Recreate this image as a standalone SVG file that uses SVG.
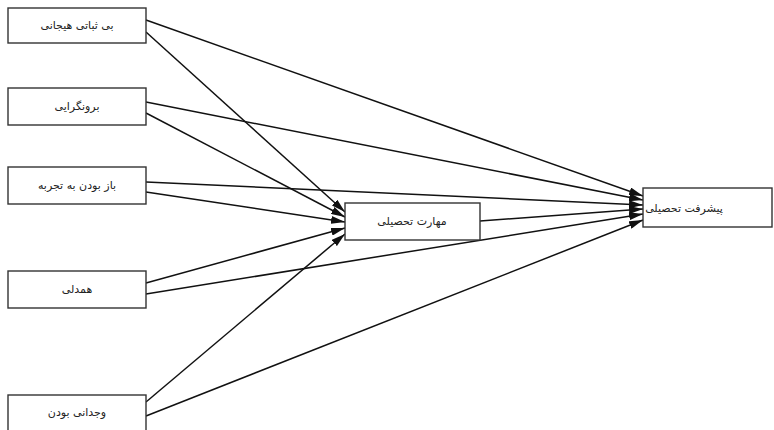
<svg xmlns="http://www.w3.org/2000/svg" width="774" height="430" viewBox="0 0 774 430">
<style>
.box{fill:#fff;stroke:#333;stroke-width:1.4}
.lbl{font-family:"DejaVu Sans",sans-serif;font-size:11px;fill:#222;text-anchor:middle;direction:rtl}
.edge{stroke:#111;stroke-width:1.5;fill:none}
</style>
<defs>
<marker id="ah" markerWidth="14" markerHeight="8" refX="14" refY="4" orient="auto" markerUnits="userSpaceOnUse">
<path d="M0,0 L14,4 L0,8 z" fill="#111"/>
</marker>
</defs>
<rect width="774" height="430" fill="#fff"/>
<g id="connectors">
<line class="edge" x1="146" y1="20" x2="643" y2="196" marker-end="url(#ah)"/>
<line class="edge" x1="146" y1="32" x2="345" y2="212" marker-end="url(#ah)"/>
<line class="edge" x1="146" y1="102" x2="643" y2="200" marker-end="url(#ah)"/>
<line class="edge" x1="146" y1="113" x2="345" y2="217" marker-end="url(#ah)"/>
<line class="edge" x1="146" y1="182" x2="643" y2="205" marker-end="url(#ah)"/>
<line class="edge" x1="146" y1="192" x2="345" y2="222" marker-end="url(#ah)"/>
<line class="edge" x1="480" y1="221" x2="643" y2="209" marker-end="url(#ah)"/>
<line class="edge" x1="146" y1="283" x2="345" y2="228" marker-end="url(#ah)"/>
<line class="edge" x1="146" y1="294" x2="643" y2="214" marker-end="url(#ah)"/>
<line class="edge" x1="146" y1="402" x2="345" y2="234" marker-end="url(#ah)"/>
<line class="edge" x1="146" y1="416" x2="643" y2="220" marker-end="url(#ah)"/>
</g>
<g id="n1"><rect class="box" x="8" y="8" width="138" height="35"/><text class="lbl" x="77" y="29">بی ثباتی هیجانی</text></g>
<g id="n2"><rect class="box" x="8" y="88" width="138" height="37"/><text class="lbl" x="77" y="110">برونگرایی</text></g>
<g id="n3"><rect class="box" x="8" y="167" width="138" height="37"/><text class="lbl" x="77" y="189">باز بودن به تجربه</text></g>
<g id="n4"><rect class="box" x="8" y="271" width="138" height="37"/><text class="lbl" x="77" y="293">همدلی</text></g>
<g id="n5"><rect class="box" x="8" y="395" width="138" height="36"/><text class="lbl" x="77" y="416">وجدانی بودن</text></g>
<g id="center"><rect class="box" x="345" y="203" width="135" height="37"/><text class="lbl" x="412" y="225">مهارت تحصیلی</text></g>
<g id="outcome"><rect class="box" x="643" y="188" width="129" height="39"/><text class="lbl" x="684" y="212">پیشرفت تحصیلی</text></g>
</svg>
